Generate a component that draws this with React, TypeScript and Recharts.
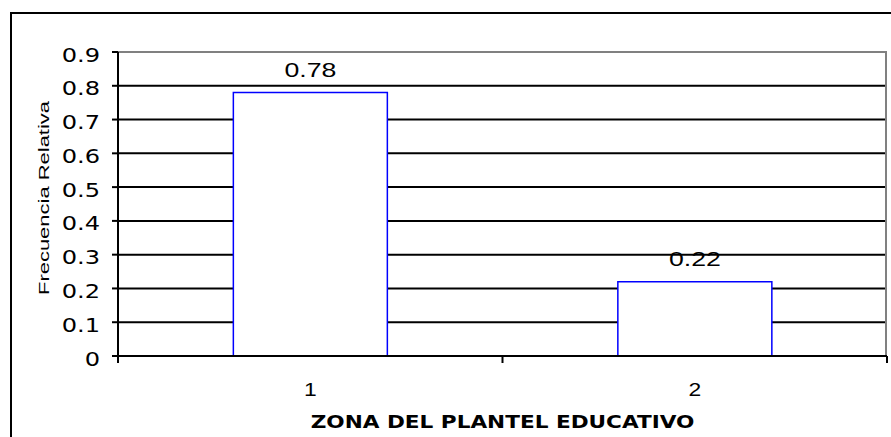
import React from 'react';
import { BarChart, Bar, XAxis, YAxis, CartesianGrid, ReferenceLine, LabelList, Label } from 'recharts';

// Zona del plantel educativo vs. frecuencia relativa
const categories = ['1', '2'];
const frecuencia = [0.78, 0.22];
const yTicks = [0, 0.1, 0.2, 0.3, 0.4, 0.5, 0.6, 0.7, 0.8, 0.9];

const data = categories.map((zona, i) => ({ zona, frecuencia: frecuencia[i] }));

const W = 891;
const H = 437;
const margin = { top: 52, right: 4, bottom: 0, left: 0 };
const yAxisWidth = 118;
const xAxisHeight = 81;
const plotWidth = W - margin.left - margin.right - yAxisWidth;
const band = plotWidth / categories.length;
const stretch = 1.27;

const YTick = (props: any) => {
  const { x, y, payload } = props;
  return (
    <text
      transform={`translate(${x} ${y + 9.5}) scale(${stretch} 1)`}
      textAnchor="end"
      fontFamily="DejaVu Sans, Verdana, sans-serif"
      fontSize={19}
      fill="#000"
    >
      {String(payload.value)}
    </text>
  );
};

const XTick = (props: any) => {
  const { x, y, payload, index } = props;
  const left = x - band / 2;
  const right = x + band / 2;
  return (
    <g>
      <line x1={left} x2={left} y1={y} y2={y + 7} stroke="#000" strokeWidth={2} />
      {index === categories.length - 1 && (
        <line x1={right} x2={right} y1={y} y2={y + 7} stroke="#000" strokeWidth={2} />
      )}
      <text
        transform={`translate(${x} ${y + 40}) scale(${stretch} 1)`}
        textAnchor="middle"
        fontFamily="Liberation Sans, Arial, sans-serif"
        fontSize={18}
        fill="#000"
      >
        {payload.value}
      </text>
    </g>
  );
};

const XTitle = (props: any) => {
  const vb = props.viewBox || {};
  const cx = vb.x + vb.width / 2;
  return (
    <text
      transform={`translate(${cx} ${vb.y + 72}) scale(${stretch} 1)`}
      textAnchor="middle"
      fontFamily="DejaVu Sans, Verdana, sans-serif"
      fontWeight="bold"
      fontSize={17}
      fill="#000"
    >
      ZONA DEL PLANTEL EDUCATIVO
    </text>
  );
};

const YTitle = (props: any) => {
  const vb = props.viewBox || {};
  const cy = vb.y + vb.height / 2 - 6;
  return (
    <text
      transform={`translate(49 ${cy}) rotate(-90) scale(1.57 1)`}
      textAnchor="middle"
      fontFamily="Liberation Sans, Arial, sans-serif"
      fontSize={14}
      fill="#000"
    >
      Frecuencia Relativa
    </text>
  );
};

const ValueLabel = (props: any) => {
  const { x, y, width, value } = props;
  return (
    <text
      transform={`translate(${x + width / 2} ${y - 15.5}) scale(${stretch} 1)`}
      textAnchor="middle"
      fontFamily="Liberation Sans, Arial, sans-serif"
      fontSize={21}
      fill="#000"
    >
      {String(value)}
    </text>
  );
};

export default function App() {
  return (
    <div style={{ position: 'fixed', left: 0, top: 0, width: W, height: H, background: '#fff', overflow: 'hidden' }}>
      <div
        style={{
          position: 'absolute',
          left: 10,
          top: 12,
          width: 900,
          height: 440,
          borderTop: '2px solid #000',
          borderLeft: '2px solid #000',
        }}
      />
      <div style={{ position: 'absolute', left: 0, top: 0 }}>
        <BarChart width={W} height={H} data={data} margin={margin} barCategoryGap="30%">
          <CartesianGrid vertical={false} stroke="#000" strokeWidth={2} />
          <CartesianGrid
            horizontal={false}
            stroke="#808080"
            strokeWidth={2}
            verticalCoordinatesGenerator={({ offset }: any) => [offset.left + offset.width - 1]}
          />
          <XAxis
            dataKey="zona"
            height={xAxisHeight}
            interval={0}
            tickLine={false}
            tickSize={0}
            tickMargin={0}
            axisLine={{ stroke: '#000', strokeWidth: 2 }}
            tick={<XTick />}
          >
            <Label content={<XTitle />} />
          </XAxis>
          <YAxis
            type="number"
            domain={[0, 0.9]}
            ticks={yTicks}
            interval={0}
            width={yAxisWidth}
            tickSize={6}
            tickMargin={12}
            axisLine={{ stroke: '#000', strokeWidth: 2 }}
            tickLine={{ stroke: '#000', strokeWidth: 2 }}
            tick={<YTick />}
          >
            <Label content={<YTitle />} />
          </YAxis>
          <ReferenceLine y={0.9} stroke="#808080" strokeWidth={2} />
          <Bar dataKey="frecuencia" fill="#fff" stroke="#0000ff" strokeWidth={1.5} isAnimationActive={false}>
            <LabelList dataKey="frecuencia" content={<ValueLabel />} />
          </Bar>
        </BarChart>
      </div>
    </div>
  );
}
